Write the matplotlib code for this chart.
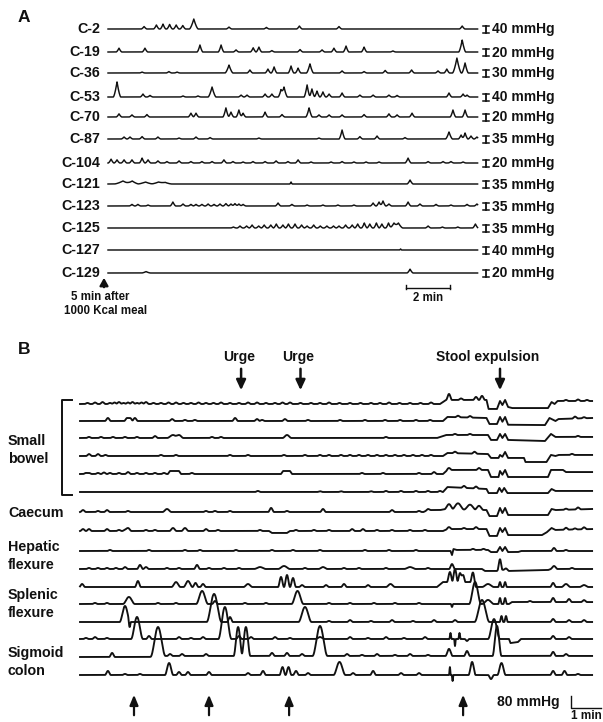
import numpy as np
import matplotlib.pyplot as plt

plt.rcParams['font.family'] = ['Liberation Sans', 'DejaVu Sans']

# ---------------- Panel A: colonic manometry channels ----------------
# peaks: (time in min, amplitude in mmHg[, half width in min])
a_names = ['C-2', 'C-19', 'C-36', 'C-53', 'C-70', 'C-87',
           'C-104', 'C-121', 'C-123', 'C-125', 'C-127', 'C-129']
a_scales = [40, 20, 30, 40, 20, 35, 20, 35, 35, 35, 40, 20]
a_duration = 16.8

a_peaks = [
    # C-2
    [(1.64, 14), (2.2, 23), (2.5, 28), (2.8, 26), (3.1, 23), (3.4, 20), (3.9, 57, 0.2),
     (5.5, 11), (7.2, 9), (8.7, 17), (10.5, 14), (16.1, 17)],
    # C-19
    [(0.5, 11), (1.68, 11), (4.18, 20), (5.14, 20), (5.82, 6), (6.6, 12), (6.86, 14),
     (7.45, 4), (8.73, 7), (9.73, 6), (10.27, 11), (10.82, 17), (11.64, 14), (12.95, 3),
     (16.1, 34, 0.16)],
    # C-36
    [(1.55, 4), (2.77, 6), (3.14, 4), (5.5, 34, 0.18), (6.45, 13), (7.27, 17), (7.55, 26),
     (8.32, 30), (8.64, 21), (9.18, 39, 0.16), (10.64, 9), (11.64, 6), (12.6, 11), (13.8, 13),
     (15.0, 9), (15.4, 17), (15.86, 64, 0.2), (16.23, 43, 0.15)],
    # C-53
    [(0.41, 86, 0.17), (1.59, 17), (1.91, 9), (3.41, 6), (4.09, 6), (4.73, 57, 0.18),
     (6.05, 11), (6.32, 11), (7.14, 17), (7.45, 17), (7.86, 40), (8.0, 57, 0.16),
     (9.05, 69, 0.14), (9.27, 46), (9.5, 34), (9.77, 29), (10.05, 17), (10.64, 23),
     (11.45, 11), (12.05, 11), (12.77, 11), (13.14, 9), (15.5, 23), (16.14, 17), (16.32, 11)],
    # C-70
    [(0.5, 9), (1.09, 6), (1.77, 7), (3.77, 11), (4.0, 11), (5.36, 26, 0.14), (5.59, 14),
     (5.95, 20), (6.14, 11), (7.14, 14), (7.91, 7), (9.14, 26, 0.15), (9.59, 6), (10.05, 6),
     (10.64, 6), (11.64, 7), (12.77, 9), (13.14, 6), (13.82, 11), (15.68, 20), (16.23, 20)],
    # C-87
    [(0.73, 10), (1.0, 10), (1.55, 12), (2.27, 10), (3.23, 5), (4.0, 10), (4.64, 7),
     (6.86, 5), (9.59, 5), (10.64, 45, 0.14), (11.45, 12), (12.23, 15), (13.5, 7),
     (15.5, 35, 0.16), (16.05, 20), (16.23, 30), (16.5, 15), (16.77, 10)],
    # C-104
    [(0.14, 11), (0.41, 9), (0.73, 9), (1.09, 9), (1.55, 14), (1.82, 9), (2.27, 6), (2.68, 4),
     (3.23, 6), (3.77, 4), (4.27, 4), (4.73, 4), (5.27, 9), (5.68, 4), (6.14, 3), (6.59, 4),
     (7.14, 4), (7.64, 6), (8.18, 4), (8.64, 9), (9.23, 3), (10.14, 3), (10.64, 4), (11.18, 3),
     (11.73, 3), (12.32, 3), (13.64, 14, 0.14), (14.55, 4), (15.23, 4), (15.59, 4), (16.14, 3)],
    # C-121
    [(0.68, 15, 0.4), (1.1, 15, 0.3), (1.7, 10, 0.35), (2.3, 10, 0.35), (2.6, 8, 0.3),
     (8.32, 10, 0.06), (13.73, 20, 0.14)],
    # C-123
    [(1.09, 8), (1.36, 8), (1.82, 5), (2.95, 20), (3.41, 10), (3.77, 8), (4.0, 8), (4.27, 8),
     (4.55, 10), (4.82, 8), (5.09, 10), (5.36, 12), (5.59, 10), (5.77, 12), (5.95, 10),
     (6.14, 8), (7.73, 15), (8.36, 8), (9.05, 5), (9.77, 5), (10.45, 5), (11.18, 5),
     (12.05, 15), (12.32, 20), (12.5, 25), (12.77, 10), (13.64, 20), (14.18, 10), (14.91, 8),
     (15.59, 5), (16.32, 8), (16.77, 10)],
    # C-125
    [(5.7, 5), (6.0, 10), (6.3, 10), (6.55, 15), (6.85, 10), (7.1, 15), (7.4, 15), (7.65, 20),
     (7.95, 15), (8.2, 20), (8.5, 20), (8.8, 15), (9.05, 10), (9.35, 15), (9.65, 10),
     (9.95, 10), (10.25, 10), (10.5, 10), (10.8, 15), (11.1, 15), (11.35, 20), (11.65, 25),
     (11.9, 20), (12.2, 25), (12.45, 20), (12.75, 25), (13.0, 25, 0.2), (13.2, 25, 0.2),
     (14.55, 10), (15.2, 5), (15.9, 5), (16.7, 20)],
    # C-127
    [(13.3, 6, 0.05)],
    # C-129
    [(1.73, 4, 0.2), (13.73, 11, 0.14)],
]

# ---------------- Panel B: pancolonic and small bowel channels ----------------
# knots: (time in min, baseline shift in mmHg); peaks as in panel A
b_duration = 17.07
b_labels = ['Small\nbowel', 'Caecum', 'Hepatic\nflexure', 'Splenic\nflexure', 'Sigmoid\ncolon']
urge_times = [5.37, 7.35]
stool_time = 14.0
bottom_arrows = [1.8, 4.3, 6.97, 12.77]

b_knots = [
    [(0, 0), (12.0, 0), (12.2, 27), (13.55, 27), (13.62, -33), (13.9, -33), (14.0, 20),
     (14.08, -7), (14.17, 27), (14.27, -20), (14.4, -27), (15.6, -27), (15.72, 13),
     (15.82, 0), (15.92, 20), (17.07, 20)],
    [(0, 0), (12.1, 0), (12.25, 27), (13.55, 20), (13.65, -20), (13.9, -20), (14.0, 27),
     (14.08, -5), (14.17, 27), (14.27, -25), (15.5, -27), (15.65, 20), (15.85, 0),
     (15.95, 13), (17.07, 20)],
    [(0, 0), (11.9, 0), (12.2, 20), (13.6, 20), (13.7, -13), (13.9, -13), (14.0, 27),
     (14.08, 0), (14.17, 27), (14.27, -13), (15.5, -20), (15.7, 27), (15.85, 7), (17.07, 7)],
    [(0, 0), (12.1, 0), (12.25, 20), (13.6, 13), (13.7, -13), (13.95, -13), (14.0, 7),
     (14.08, -5), (14.17, 27), (14.27, -13), (14.8, -13), (14.85, -40), (15.55, -40),
     (15.7, 7), (15.85, 0), (15.95, 7), (17.07, 7)],
    [(0, 0), (2.93, 0), (3.0, 20), (3.3, 20), (3.37, 0), (6.7, 0), (6.77, 20), (7.0, 20),
     (7.07, 0), (12.1, 0), (12.25, 27), (13.6, 27), (13.7, -20), (13.95, -20), (14.0, 20),
     (14.08, -5), (14.17, 27), (14.27, -20), (15.6, -20), (15.7, 27), (16.1, 27),
     (16.2, 13), (17.07, 13)],
    [(0, 0), (12.1, 0), (12.25, 33), (13.55, 20), (13.62, -7), (13.9, -7), (13.98, 27),
     (14.06, 0), (14.14, 27), (14.25, -7), (15.6, -7), (15.72, 20), (15.85, 7), (17.07, 7)],
    [(0, 0), (11.45, 0), (11.6, 13), (12.0, 13), (12.2, 20), (13.55, 13), (13.65, -27),
     (13.9, -27), (14.0, 27), (14.08, -7), (14.17, 27), (14.27, -20), (15.6, -20),
     (15.72, 20), (15.85, 13), (17.07, 20)],
    [(0, 0), (6.3, 0), (6.4, -13), (6.9, -13), (7.0, 0), (12.1, 0), (12.25, 13), (13.55, 13),
     (13.65, -33), (13.9, -33), (14.0, 20), (14.08, -7), (14.17, 20), (14.27, -27),
     (15.4, -27), (15.55, -10), (15.72, 20), (15.85, 7), (17.07, 13)],
    [(0, 0), (12.35, 0), (12.4, -27), (12.45, 13), (12.55, 7), (13.6, 7), (13.7, -7),
     (13.9, -7), (14.0, 27), (14.08, 0), (14.17, 27), (14.27, -7), (14.6, -7), (14.7, 0),
     (17.07, 0)],
    [(0, 0), (13.4, 0), (13.5, -13), (13.9, -13), (13.95, 0), (14.3, -13), (15.6, -7),
     (15.7, 0), (17.07, 0)],
    [(0, 0), (11.9, 0), (12.1, 33), (13.0, 33), (13.2, 0), (17.07, 0)],
    [(0, 0), (14.3, 0), (14.4, 13), (17.07, 13)],
    [(0, 0), (17.07, 0)],
    [(0, 0), (14.3, 0), (14.35, -27), (14.6, -20), (14.7, 0), (17.07, 0)],
    [(0, 0), (2.3, 0), (2.6, 7), (17.07, 7)],
    [(0, 0), (17.07, 0)],
]

b_peaks = [
    [(0.25, 7), (0.5, 10), (0.75, 13), (1.0, 7), (1.15, 10), (1.3, 13), (1.45, 7), (1.6, 10),
     (1.75, 13), (1.9, 7), (2.05, 10), (2.2, 13), (2.45, 7), (2.7, 7), (2.95, 10), (3.2, 10),
     (3.45, 7), (3.7, 7), (3.95, 10), (4.2, 7), (4.45, 7), (4.7, 10), (5.0, 7), (5.3, 7),
     (5.6, 10), (5.9, 10), (6.2, 7), (6.5, 7), (6.75, 10), (7.0, 10), (7.35, 7), (7.7, 7),
     (8.0, 7), (8.3, 10), (8.65, 7), (9.0, 7), (9.35, 7), (9.7, 7), (10.0, 7), (10.3, 10),
     (10.65, 7), (11.0, 7), (11.35, 7), (11.7, 10), (12.3, 40), (12.7, 10), (13.2, 20),
     (13.4, 27), (16.2, 7), (16.6, 10), (16.9, 7)],
    [(0.93, 20), (1.57, 20), (1.67, 20), (1.83, 20), (3.07, 13), (3.5, 7), (3.83, 7),
     (5.17, 20), (5.9, 13), (6.07, 7), (6.83, 13), (7.6, 7), (8.67, 7), (9.5, 7), (10.17, 7),
     (10.67, 7), (11.2, 7), (11.67, 7), (12.6, 10), (13.0, 10), (16.5, 13), (16.8, 7)],
    [(0.3, 7), (0.7, 7), (1.1, 7), (1.5, 7), (1.9, 7), (2.5, 13), (3.1, 20, 0.2),
     (3.3, 20, 0.15), (4.4, 7), (4.7, 7), (6.9, 20, 0.15), (10.2, 7), (12.5, 7), (13.0, 7),
     (16.6, 7)],
    [(0.3, 13), (0.6, 13), (0.85, 7), (2.7, 7), (3.2, 7), (5.0, 7), (5.6, 7), (6.8, 7),
     (7.5, 7), (8.0, 7), (8.3, 7), (8.7, 7), (9.0, 7), (9.3, 7), (9.6, 7), (9.9, 7),
     (10.2, 7), (10.5, 7), (10.8, 7), (11.1, 7), (11.4, 7), (11.7, 7), (12.5, 10),
     (13.15, 13), (16.4, 7)],
    [(0.2, 7), (0.3, 7), (0.6, 7), (0.8, 10), (1.0, 7), (1.3, 7), (1.6, 13), (1.9, 7),
     (2.2, 7), (2.5, 7), (2.8, 7), (3.73, 7), (9.4, 7), (10.1, 7), (11.3, 7), (11.8, 13),
     (12.3, 13), (13.3, 13)],
    [(5.93, 7), (8.0, 5), (8.7, 5), (9.7, 5), (10.2, 7), (10.7, 7), (11.2, 7), (11.6, 7),
     (12.0, 7), (12.8, 13), (13.2, 13)],
    [(0.1, 13), (0.6, 7), (0.9, 13), (1.6, 7), (2.9, 20, 0.15), (4.2, 7), (4.5, 7), (5.0, 7),
     (6.37, 27), (6.9, 7), (8.1, 20), (10.4, 13), (11.3, 7), (11.6, 7), (12.3, 33, 0.15),
     (12.6, 40, 0.2), (13.0, 33, 0.2), (13.3, 27, 0.15), (16.2, 7), (16.6, 13)],
    [(0.1, 13), (0.3, 13), (0.9, 13), (1.3, 7), (1.5, 7), (1.6, 20, 0.12), (2.2, 7), (2.5, 7),
     (3.1, 20, 0.12), (3.5, 20, 0.12), (4.2, 13), (4.6, 7), (6.0, 7), (7.2, 7), (7.8, 7),
     (8.3, 7), (9.07, 13), (9.43, 13), (9.9, 7), (10.4, 7), (11.0, 7), (11.5, 7), (12.3, 13),
     (12.8, 7), (13.2, 13), (16.2, 13), (16.5, 7), (16.8, 13)],
    [(1.0, 7), (2.3, 7), (3.5, 7), (4.0, 7), (5.2, 7), (6.4, 7), (7.1, 7), (8.0, 7), (9.5, 7),
     (10.3, 7), (11.2, 7), (13.1, 7), (13.45, 7), (15.8, 20), (16.2, 7)],
    [(0.3, 7), (0.6, 7), (0.9, 7), (1.2, 7), (1.5, 13), (2.0, 27, 0.1), (2.2, 13), (2.9, 7),
     (3.3, 7), (3.9, 27, 0.1), (4.3, 7), (4.8, 7), (5.3, 7), (6.0, 13, 0.2), (6.8, 20, 0.2),
     (7.5, 7), (8.1, 13, 0.15), (8.8, 7), (9.3, 7), (10.2, 7), (11.0, 13, 0.2), (11.6, 7),
     (12.4, 33, 0.1), (14.0, 67, 0.08), (14.2, 13), (15.8, 20, 0.12), (16.4, 7)],
    [(0.07, 20), (1.93, 40, 0.1), (3.2, 33, 0.15), (3.6, 40, 0.15), (3.85, 27), (4.1, 20),
     (5.6, 20, 0.15), (6.7, 67, 0.1), (6.9, 80, 0.1), (7.1, 60, 0.1), (7.4, 13),
     (8.2, 13), (8.8, 20), (9.6, 13), (10.35, 20, 0.15), (12.33, 67, 0.1), (12.5, 87, 0.1),
     (12.67, 60, 0.1), (12.77, 47, 0.08), (13.1, 80, 0.1), (13.6, 20, 0.2), (14.0, 33, 0.06),
     (14.17, 33, 0.06), (15.77, 27), (16.2, 20, 0.15), (16.8, 13, 0.15)],
    [(0.5, 7), (0.9, 7), (1.63, 47, 0.2), (2.6, 7), (3.2, 7), (4.07, 87, 0.2), (4.5, 20),
     (5.5, 7), (6.2, 7), (7.25, 87, 0.2), (8.3, 7), (9.0, 7), (9.8, 7), (10.5, 7), (11.3, 7),
     (12.4, -20, 0.04), (13.17, 147, 0.2), (13.6, 27, 0.2), (14.0, 40, 0.06),
     (14.17, 40, 0.06), (15.0, 7), (15.77, 27), (16.3, 20), (16.8, 13)],
    [(1.5, 107, 0.18), (1.65, -40, 0.05), (4.47, 187, 0.25), (5.0, 33), (7.5, 100, 0.22),
     (8.3, 7), (9.0, 13), (9.7, 7), (10.4, 13), (11.1, 7), (11.8, 13), (12.5, 13),
     (13.4, 147, 0.25), (14.05, 40, 0.06), (14.2, 40, 0.06), (15.77, 20), (16.3, 13),
     (16.8, 13)],
    [(0.2, 7), (0.5, 13), (0.9, 7), (1.9, 147, 0.2), (2.3, 20), (3.3, 13), (3.7, 7),
     (4.1, 13), (4.83, 213, 0.22), (5.3, 20), (5.7, 13), (6.5, 13), (7.0, 7), (8.0, 13, 0.15),
     (9.0, 13), (9.6, 7), (10.2, 13), (10.8, 7), (11.5, 13), (12.35, 40, 0.04),
     (12.5, -47, 0.03), (12.65, 40, 0.04), (12.9, -13, 0.08), (13.8, 133, 0.2),
     (15.77, 20), (16.3, 13)],
    [(1.07, 27), (2.6, 193, 0.25), (3.0, 13), (3.4, 13), (4.2, 13), (5.27, 193, 0.15),
     (5.53, 193, 0.15), (6.4, 20), (6.9, 20), (7.4, 13), (8.0, 200, 0.25), (8.9, 13),
     (9.4, 7), (9.9, 13), (10.5, 7), (11.0, 13), (11.6, 7), (12.3, 47, 0.12),
     (12.9, 33), (13.9, 200, 0.15), (15.77, 27), (16.2, 13)],
    [(0.93, 27), (1.5, 7), (2.0, 7), (2.97, 80, 0.14), (3.3, 20), (3.6, 20), (4.3, 20),
     (5.6, 13), (6.1, 27), (6.75, 53, 0.1), (6.95, 53, 0.1), (7.2, 27), (7.6, 13),
     (8.65, 87, 0.2), (9.1, 13), (9.77, 27), (10.7, 13), (11.3, 13), (12.33, 53, 0.03),
     (12.42, -40, 0.03), (13.07, 87, 0.12), (13.7, -27), (14.05, 80, 0.14), (15.77, 27),
     (16.15, 27), (16.6, 7)],
]


def render(t, peaks, knots=None, w_default=0.1, sharp=True):
    if knots:
        y = np.interp(t, [k[0] for k in knots], [k[1] for k in knots])
    else:
        y = np.zeros_like(t)
    for p in peaks:
        t0, h = p[0], p[1]
        w = p[2] if len(p) > 2 else w_default
        d = np.abs(t - t0)
        m = d < w
        if sharp:
            y[m] += h * (1 - d[m] / w) ** 1.5
        else:
            y[m] += h * 0.5 * (1 + np.cos(np.pi * d[m] / w))
    return y


fig = plt.figure(figsize=(6.03, 7.22), dpi=100)
ax = fig.add_axes([0, 0, 1, 1])
ax.set_xlim(0, 603)
ax.set_ylim(722, 0)
ax.axis('off')

ink = '#111111'
bold = dict(fontweight='bold', color=ink)

# ---- panel A layout
ax0, apx_min = 108, 22.0         # trace start (px) and px per minute
a_rows = [29, 52, 73, 97, 117, 139, 163, 184, 206, 228, 250, 273]
cal_px = 7.0

ax.text(18, 18, 'A', fontsize=12.5, va='center', ha='left', **bold)
ta = np.arange(0, a_duration + 0.005, 0.01)
for name, scale, peaks, y0 in zip(a_names, a_scales, a_peaks, a_rows):
    y = render(ta, peaks, w_default=0.13, sharp=True)
    ax.plot(ax0 + ta * apx_min, y0 - y * cal_px / scale, color=ink, lw=1.05)
    ax.text(100, y0, name, ha='right', va='center', fontsize=10.3, **bold)
    cx = 486
    ax.plot([cx, cx], [y0 - cal_px / 2, y0 + cal_px / 2], color=ink, lw=1.3)
    ax.plot([cx - 2.8, cx + 2.8], [y0 - cal_px / 2] * 2, color=ink, lw=1.1)
    ax.plot([cx - 2.8, cx + 2.8], [y0 + cal_px / 2] * 2, color=ink, lw=1.1)
    ax.text(492, y0 + 0.5, f'{scale} mmHg', ha='left', va='center', fontsize=10, **bold)

ax.annotate('', xy=(104, 275), xytext=(104, 290),
            arrowprops=dict(arrowstyle='-|>,head_width=0.25,head_length=0.45',
                            lw=1.6, color=ink))
ax.text(100, 297, '5 min after', ha='center', va='center', fontsize=8.3, **bold)
ax.text(106, 311, '1000 Kcal meal', ha='center', va='center', fontsize=8.3, **bold)

bar_x0 = 406
ax.plot([bar_x0, bar_x0 + 2 * apx_min], [288, 288], color=ink, lw=1)
for bx in (bar_x0, bar_x0 + 2 * apx_min):
    ax.plot([bx, bx], [285, 289], color=ink, lw=1)
ax.text(bar_x0 + apx_min, 298, '2 min', ha='center', va='center', fontsize=8.3, **bold)

# ---- panel B layout
bx0, bpx_min = 80, 30.0
b_rows = [404, 421, 438, 456, 474, 492, 512, 531, 551, 569, 587, 604, 622, 639, 657, 675]
b_px_per_mmhg = 12 / 80

ax.text(18, 350, 'B', fontsize=12.5, va='center', ha='left', **bold)
tb = np.arange(0, b_duration + 0.005, 0.01)
for knots, peaks, y0 in zip(b_knots, b_peaks, b_rows):
    y = render(tb, peaks, knots, w_default=0.1, sharp=False)
    ax.plot(bx0 + tb * bpx_min, y0 - y * b_px_per_mmhg, color=ink, lw=1.35)

label_y = [450, 513, 556, 604, 662]
for lab, ly in zip(b_labels, label_y):
    ax.text(8, ly, lab, ha='left', va='center', fontsize=10.3, linespacing=1.4, **bold)

# bracket around small bowel channels
ax.plot([72, 62, 62, 72], [400, 400, 495, 495], color=ink, lw=1.4)

arrow_down = dict(arrowstyle='-|>,head_width=0.28,head_length=0.6', lw=1.8, color=ink)
for ut in urge_times:
    x = bx0 + ut * bpx_min
    ax.text(x - 2, 357, 'Urge', ha='center', va='center', fontsize=10, **bold)
    ax.annotate('', xy=(x, 393), xytext=(x, 366), arrowprops=arrow_down)
sx = bx0 + stool_time * bpx_min
ax.text(488, 357, 'Stool expulsion', ha='center', va='center', fontsize=10, **bold)
ax.annotate('', xy=(sx, 393), xytext=(sx, 366), arrowprops=arrow_down)

for at in bottom_arrows:
    x = bx0 + at * bpx_min
    ax.annotate('', xy=(x, 692), xytext=(x, 718),
                arrowprops=dict(arrowstyle='-|>,head_width=0.25,head_length=0.6',
                                lw=1.6, color=ink))

ax.text(560, 702, '80 mmHg', ha='right', va='center', fontsize=10, **bold)
sb_y = 708
ax.plot([571, 571, 571 + bpx_min], [sb_y - 80 * b_px_per_mmhg, sb_y, sb_y], color=ink, lw=1)
ax.text(571 + bpx_min / 2, 716, '1 min', ha='center', va='center', fontsize=8.5, **bold)

fig.savefig('out.png', dpi=100)
